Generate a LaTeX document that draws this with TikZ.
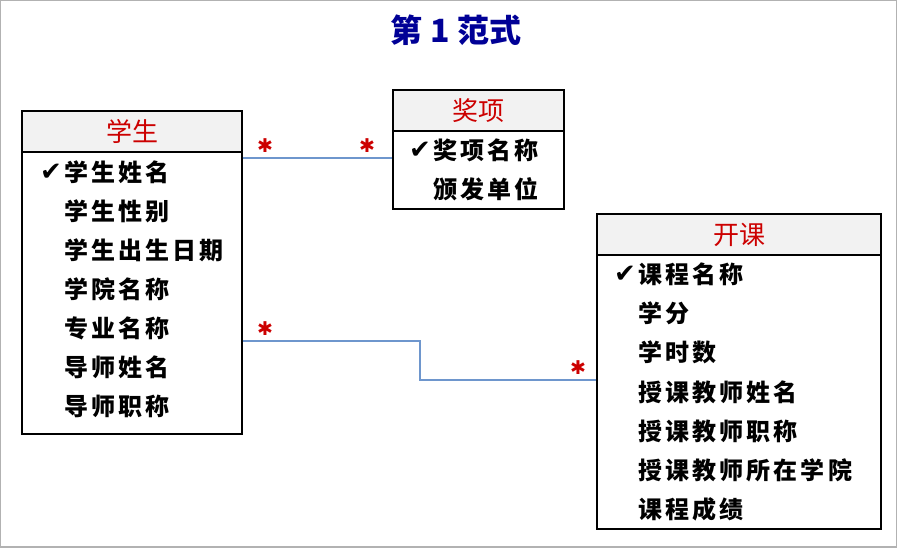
\documentclass[tikz,border=0pt]{standalone}
\usepackage{fontspec}
\newfontfamily\cjk{Noto Sans CJK SC}
\newfontfamily\symb{DejaVu Sans}
\definecolor{titleblue}{RGB}{0,0,150}
\definecolor{headred}{RGB}{204,0,0}
\definecolor{headgray}{RGB}{242,242,242}
\definecolor{linkblue}{RGB}{110,150,205}
\tikzset{
  entity/.style={draw=black, line width=1.2pt, inner sep=0pt},
  header/.style={draw=black, line width=1.2pt, fill=headgray, inner sep=0pt},
  headtext/.style={text=headred, font=\cjk\fontsize{26}{28}\selectfont},
  attr/.style={anchor=west, inner sep=0pt, font=\cjk\bfseries\fontsize{24}{27}\selectfont\addfontfeature{LetterSpace=13}},
  keymark/.style={anchor=east, inner sep=0pt, font=\symb\fontsize{26}{28}\selectfont},
  link/.style={draw=linkblue, line width=1.2pt},
  mult/.style={text=headred, inner sep=0pt, font=\symb\fontsize{19}{22}\selectfont}
}
\begin{document}
\begin{tikzpicture}[x=1pt, y=-1pt]
    % Рамка
    \useasboundingbox (0,0) rectangle (897,547);
    \draw[gray!60, line width=2pt] (0,0) rectangle (897,547);

    % Заголовок
    \node[text=titleblue, font=\cjk\bfseries\fontsize{32}{36}\selectfont] (title) at (456,30) {第 1 范式};

    % Сущность: 学生
    \node[entity, minimum width=220pt, minimum height=323pt] (stu) at (132,272.5) {};
    \node[header, minimum width=220pt, minimum height=41pt] (stuH) at (132,131.5) {};
    \node[headtext] at (stuH) {学生};
    \foreach \t [count=\i] in {学生姓名,学生性别,学生出生日期,学院名称,专业名称,导师姓名,导师职称}
      \node[attr] (stu\i) at (64,{172+39*(\i-1)}) {\t};
    \node[keymark] at ([xshift=-2pt]stu1.west) {✔};

    % Сущность: 奖项
    \node[entity, minimum width=171pt, minimum height=119pt] (awd) at (478.5,149.5) {};
    \node[header, minimum width=171pt, minimum height=41pt] (awdH) at (478.5,110.5) {};
    \node[headtext] at (awdH) {奖项};
    \foreach \t [count=\i] in {奖项名称,颁发单位}
      \node[attr] (awd\i) at (433,{150+39*(\i-1)}) {\t};
    \node[keymark] at ([xshift=-2pt]awd1.west) {✔};

    % Сущность: 开课
    \node[entity, minimum width=284pt, minimum height=315pt] (crs) at (739,371.5) {};
    \node[header, minimum width=284pt, minimum height=41pt] (crsH) at (739,234.5) {};
    \node[headtext] at (crsH) {开课};
    \foreach \t [count=\i] in {课程名称,学分,学时数,授课教师姓名,授课教师职称,授课教师所在学院,课程成绩}
      \node[attr] (crs\i) at (638,{274+39.3*(\i-1)}) {\t};
    \node[keymark] at ([xshift=-2pt]crs1.west) {✔};

    % Связи
    \coordinate (stuA) at (stu.east |- 0,158);
    \coordinate (awdA) at (awd.west |- 0,158);
    \draw[link] (stuA) -- (awdA);
    \node[mult] (m1) at (265,146) {✱};
    \node[mult] (m2) at (367,146) {✱};

    \coordinate (stuC) at (stu.east |- 0,341);
    \coordinate (crsC) at (crs.west |- 0,380);
    \draw[link] (stuC) -- (420,341) -- (420,380) -- (crsC);
    \node[mult] (m3) at (265,329) {✱};
    \node[mult] (m4) at (578,368) {✱};
\end{tikzpicture}
\end{document}
